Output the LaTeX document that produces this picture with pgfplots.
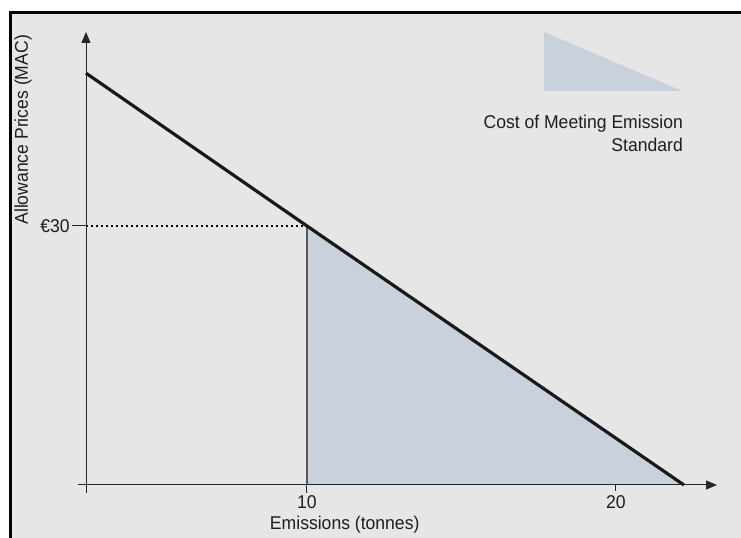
\documentclass[border=0pt]{standalone}
\usepackage{pgfplots}
\pgfplotsset{compat=1.18}
\usepackage{fontspec}
\setmainfont{Liberation Sans}[FakeStretch=0.95]
\usetikzlibrary{arrows.meta}
\definecolor{bg}{RGB}{230,230,230}
\definecolor{fillc}{RGB}{201,209,220}
\definecolor{txt}{RGB}{30,30,30}
\begin{document}
\fontsize{18.5bp}{22bp}\selectfont
\begin{tikzpicture}[x=1bp,y=1bp]
\useasboundingbox (0,0) rectangle (741,538);
\fill[white] (0,0) rectangle (741,538);
\fill[bg] (12,0) rectangle (741,524);
\fill[black] (9,0) rectangle (12,527);
\fill[black] (9,524) rectangle (741,527);
\begin{axis}[
  at={(86bp,53bp)}, anchor=south west,
  scale only axis, width=631bp, height=453bp,
  xmin=2.848, xmax=23.27, ymin=0, ymax=52.47,
  clip=false,
  axis line style={draw=none},
  major tick length=0pt,
  /pgf/number format/assume math mode=true,
  xtick={10,20}, ytick={30},
  xticklabels={10,20},
  yticklabels={€30},
  ticklabel style={font=\fontsize{18.5bp}{22bp}\selectfont, text=txt},
  xticklabel style={yshift=-4bp},
  yticklabel style={xshift=-10bp},
  xlabel={Emissions (tonnes)},
  ylabel={Allowance Prices (MAC)},
  label style={font=\fontsize{18.5bp}{22bp}\selectfont, text=txt},
  xlabel style={at={(axis description cs:0.41,-0.088)}, anchor=center},
  ylabel style={at={(axis description cs:-0.0998,0.784)}, anchor=center, rotate=0},
]
% shaded cost area
\addplot[fill=fillc, draw=none] coordinates {(10,0) (10,30) (22.2,0)} -- cycle;
% legend triangle
\addplot[fill=fillc, draw=none] coordinates {(17.67,52.47) (17.67,45.64) (22.14,45.64)} -- cycle;
% vertical line at 10
\addplot[draw=black!65, line width=1.2bp] coordinates {(10,0) (10,30)};
% dotted guide at 30
\addplot[draw=black, line width=2bp, dash pattern=on 2bp off 3bp] coordinates {(2.848,30) (10,30)};
% axes
\draw[black!85, line width=1bp, -{Triangle[length=11bp,width=9bp]}] (axis cs:2.589,0) -- (axis cs:23.27,0);
\draw[black!85, line width=1bp, -{Triangle[length=11bp,width=9bp]}] (axis cs:2.848,-0.93) -- (axis cs:2.848,52.47);
% ticks
\draw[black!85, line width=1bp] (axis cs:10,0) -- (axis cs:10,-0.93);
\draw[black!85, line width=1bp] (axis cs:20,0) -- (axis cs:20,-0.7);
\draw[black!85, line width=1bp] (axis cs:2.848,30) -- (axis cs:2.395,30);
% MAC line
\addplot[draw=black!90, line width=3.2bp] coordinates {(2.848,47.7) (10,30) (22.2,0)};
% legend text
\node[anchor=base east, text=txt, inner sep=0pt] at (axis cs:22.17,41.24) {Cost of Meeting Emission};
\node[anchor=base east, text=txt, inner sep=0pt] at (axis cs:22.17,38.57) {Standard};
\end{axis}
\end{tikzpicture}
\end{document}
